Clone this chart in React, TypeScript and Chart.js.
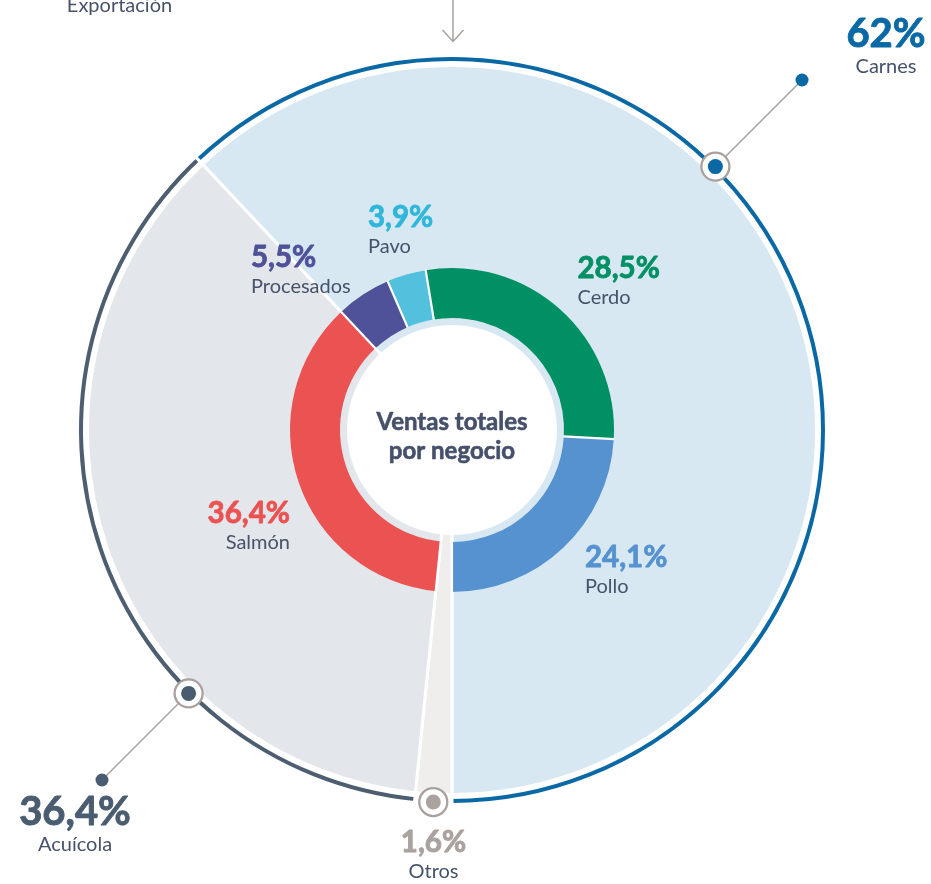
import React, { useEffect, useRef } from 'react';
import { Chart, registerables } from 'chart.js';

Chart.register(...registerables);

// ---------- data ----------
const groupLabels = ['Carnes', 'Otros', 'Acuícola'];
const groupValues = [62, 1.6, 36.4];
const groupPctText = ['62%', '1,6%', '36,4%'];

const productLabels = ['Cerdo', 'Pollo', 'Otros', 'Salmón', 'Procesados', 'Pavo'];
const productValues = [28.5, 24.1, 1.6, 36.4, 5.5, 3.9];
const productPctText = ['28,5%', '24,1%', '', '36,4%', '5,5%', '3,9%'];

const centerLines = ['Ventas totales', 'por negocio'];
const topCaption = 'Exportación';

// ---------- styles ----------
const groupColors = ['#d7e8f2', '#efeeed', '#e3e6ea'];
const groupRingColors = ['#0a69a5', 'rgba(0,0,0,0)', '#4d5e71'];
const groupTextColors = ['#0a69a5', '#aaa29e', '#4a5d70'];
const productColors = ['#009063', '#5592cf', 'rgba(0,0,0,0)', '#eb5252', '#4f5199', '#53c1de'];
const productTextColors = ['#009063', '#5592cf', '', '#eb5252', '#4f5199', '#2fb6da'];
const nameColor = '#46526a';
const leaderColor = '#a9a19d';

// ---------- layout ----------
const W = 931;
const H = 884;
const CX = 452;
const CY = 430;
const FONT = 'Lato, "Noto Sans", sans-serif';
const RING_R = 372.5;
const LEADER_R = 495;
const calloutAngles = [45, null, 225]; // degrees clockwise from top; null = slice middle
const groupLabelPos = [
  { x: 886, y: 47, size: 40 },
  { x: 433.5, y: 852, size: 29.5 },
  { x: 75, y: 825, size: 40 },
];
const productLabelPos = [
  { x: 577.5, y: 278, align: 'left' },
  { x: 585, y: 567, align: 'left' },
  null,
  { x: 290, y: 523, align: 'right' },
  { x: 251, y: 267, align: 'left' },
  { x: 368, y: 227, align: 'left' },
];

const outerRotation = 180 - 3.6 * groupValues[0];
const innerRotation = 180 - 3.6 * (productValues[0] + productValues[1]);

const TRANSPARENT = 'rgba(0,0,0,0)';

function degToRad(d: number) {
  return ((d - 90) * Math.PI) / 180;
}

function drawText(
  ctx: CanvasRenderingContext2D,
  s: string,
  x: number,
  y: number,
  font: string,
  color: string,
  align: CanvasTextAlign,
  heavy = 0
) {
  ctx.font = font;
  ctx.fillStyle = color;
  ctx.textAlign = align;
  ctx.textBaseline = 'alphabetic';
  ctx.fillText(s, x, y);
  if (heavy > 0) {
    ctx.lineWidth = heavy;
    ctx.lineJoin = 'round';
    ctx.strokeStyle = color;
    ctx.strokeText(s, x, y);
  }
}

const outerPlugin = {
  id: 'outerDecor',
  afterDatasetsDraw(chart: any) {
    const ctx: CanvasRenderingContext2D = chart.ctx;
    const meta = chart.getDatasetMeta(2);
    ctx.save();
    // top caption + arrow
    drawText(ctx, topCaption, 119.5, 12, `400 20px ${FONT}`, nameColor, 'center');
    ctx.strokeStyle = leaderColor;
    ctx.lineWidth = 1.5;
    ctx.beginPath();
    ctx.moveTo(CX + 1, 0);
    ctx.lineTo(CX + 1, 41.5);
    ctx.moveTo(CX - 9.5, 30);
    ctx.lineTo(CX + 1, 41.5);
    ctx.lineTo(CX + 11.5, 30);
    ctx.stroke();

    meta.data.forEach((el: any, i: number) => {
      const a =
        calloutAngles[i] != null ? degToRad(calloutAngles[i] as number) : (el.startAngle + el.endAngle) / 2;
      const cx = el.x;
      const cy = el.y;
      const mx = cx + Math.cos(a) * RING_R;
      const my = cy + Math.sin(a) * RING_R;
      if (calloutAngles[i] != null) {
        const lx = cx + Math.cos(a) * LEADER_R;
        const ly = cy + Math.sin(a) * LEADER_R;
        ctx.strokeStyle = leaderColor;
        ctx.lineWidth = 1.5;
        ctx.beginPath();
        ctx.moveTo(cx + Math.cos(a) * (RING_R + 14), cy + Math.sin(a) * (RING_R + 14));
        ctx.lineTo(lx, ly);
        ctx.stroke();
        ctx.fillStyle = groupTextColors[i];
        ctx.beginPath();
        ctx.arc(lx, ly, 6.5, 0, Math.PI * 2);
        ctx.fill();
      }
      ctx.beginPath();
      ctx.arc(mx, my, 14, 0, Math.PI * 2);
      ctx.fillStyle = '#ffffff';
      ctx.fill();
      ctx.lineWidth = 2.3;
      ctx.strokeStyle = leaderColor;
      ctx.stroke();
      ctx.beginPath();
      ctx.arc(mx, my, 7.5, 0, Math.PI * 2);
      ctx.fillStyle = groupTextColors[i];
      ctx.fill();

      const p = groupLabelPos[i];
      drawText(ctx, groupPctText[i], p.x, p.y, `700 ${p.size}px ${FONT}`, groupTextColors[i], 'center', 0.9);
      drawText(ctx, groupLabels[i], p.x, p.y + 26, `400 20px ${FONT}`, nameColor, 'center');
    });
    ctx.restore();
  },
};

const innerPlugin = {
  id: 'innerDecor',
  afterDatasetsDraw(chart: any) {
    const ctx: CanvasRenderingContext2D = chart.ctx;
    const meta = chart.getDatasetMeta(0);
    ctx.save();
    // white separators between product slices
    ctx.strokeStyle = '#ffffff';
    ctx.lineWidth = 2.2;
    meta.data.forEach((el: any) => {
      const a = el.startAngle;
      ctx.beginPath();
      ctx.moveTo(el.x + Math.cos(a) * (el.innerRadius - 0.5), el.y + Math.sin(a) * (el.innerRadius - 0.5));
      ctx.lineTo(el.x + Math.cos(a) * (el.outerRadius + 0.5), el.y + Math.sin(a) * (el.outerRadius + 0.5));
      ctx.stroke();
    });
    // product labels
    productLabels.forEach((name, i) => {
      const p = productLabelPos[i];
      if (!p) return;
      drawText(ctx, productPctText[i], p.x, p.y, `700 29.5px ${FONT}`, productTextColors[i], p.align as CanvasTextAlign, 0.8);
      drawText(ctx, name, p.x, p.y + 26, `400 20px ${FONT}`, nameColor, p.align as CanvasTextAlign);
    });
    // center text
    const el0 = meta.data[0];
    drawText(ctx, centerLines[0], el0.x, 430, `700 24px ${FONT}`, '#46506a', 'center', 0.6);
    drawText(ctx, centerLines[1], el0.x, 459, `700 24px ${FONT}`, '#46506a', 'center', 0.6);
    ctx.restore();
  },
};

const baseOptions = (radius: number) => ({
  animation: false as const,
  responsive: false,
  maintainAspectRatio: false,
  events: [] as any[],
  radius,
  cutout: 0,
  layout: { padding: { left: 0, top: 0, right: W - 2 * CX, bottom: H - 2 * CY } },
  plugins: { legend: { display: false }, tooltip: { enabled: false }, title: { display: false } },
});

export default function App() {
  const outerRef = useRef<HTMLCanvasElement>(null);
  const innerRef = useRef<HTMLCanvasElement>(null);

  useEffect(() => {
    const outer = new Chart(outerRef.current as HTMLCanvasElement, {
      type: 'doughnut',
      data: {
        labels: groupLabels,
        datasets: [
          {
            data: groupValues,
            backgroundColor: groupRingColors,
            borderColor: '#ffffff',
            borderWidth: [3, 0, 3],
            rotation: outerRotation,
            weight: 7,
          } as any,
          {
            data: [1],
            backgroundColor: TRANSPARENT,
            borderWidth: 0,
            weight: 3,
          } as any,
          {
            data: groupValues,
            backgroundColor: groupColors,
            borderColor: '#ffffff',
            borderWidth: 3,
            rotation: outerRotation,
            weight: 364.5,
          } as any,
        ],
      },
      options: baseOptions(374.5) as any,
      plugins: [outerPlugin],
    });

    const inner = new Chart(innerRef.current as HTMLCanvasElement, {
      type: 'doughnut',
      data: {
        labels: productLabels,
        datasets: [
          {
            data: productValues,
            backgroundColor: productColors,
            borderWidth: 0,
            rotation: innerRotation,
            weight: 50,
          } as any,
          {
            data: [1],
            backgroundColor: TRANSPARENT,
            borderWidth: 0,
            weight: 7,
          } as any,
          {
            data: [1],
            backgroundColor: '#ffffff',
            borderWidth: 0,
            weight: 105,
          } as any,
        ],
      },
      options: baseOptions(162) as any,
      plugins: [innerPlugin],
    });

    return () => {
      outer.destroy();
      inner.destroy();
    };
  }, []);

  return (
    <div
      style={{
        position: 'fixed',
        left: 0,
        top: 0,
        width: W,
        height: H,
        background: '#ffffff',
        overflow: 'hidden',
      }}
    >
      <canvas ref={outerRef} width={W} height={H} style={{ position: 'absolute', left: 0, top: 0 }} />
      <canvas ref={innerRef} width={W} height={H} style={{ position: 'absolute', left: 0, top: 0 }} />
    </div>
  );
}
